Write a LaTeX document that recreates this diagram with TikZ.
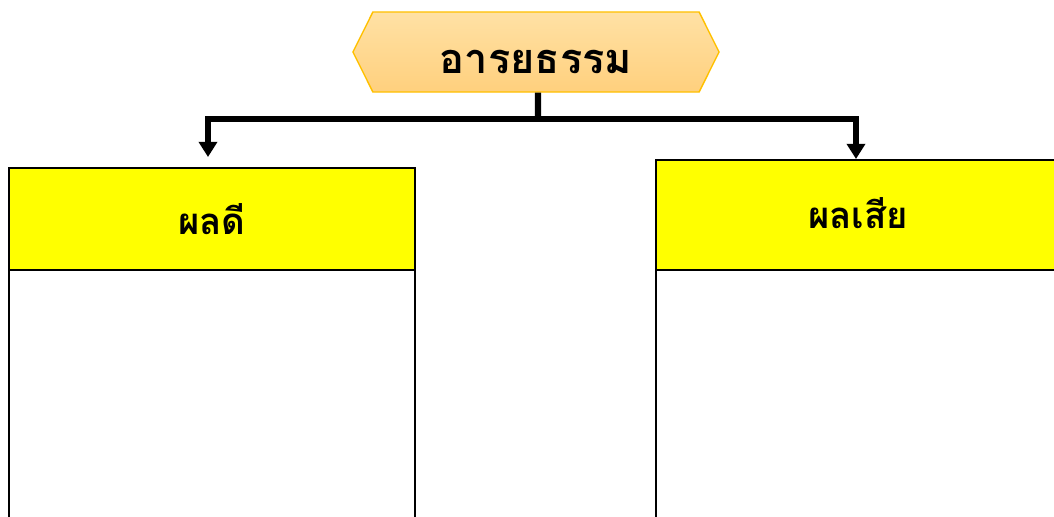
\documentclass[tikz,border=0pt]{standalone}
\usepackage{fontspec}
\newfontfamily\thaifont[Script=Thai]{Loma}
\usetikzlibrary{shapes.symbols,arrows.meta}
\definecolor{hexgold}{RGB}{255,192,0}
\definecolor{hextop}{RGB}{255,225,165}
\definecolor{hexbot}{RGB}{255,208,125}
\definecolor{headyellow}{RGB}{255,255,0}

\begin{document}
\begin{tikzpicture}[x=0.025cm, y=-0.025cm,
    every node/.style={font=\thaifont\bfseries},
    title/.style={signal, signal to=west and east, signal pointer angle=127,
        draw=hexgold, line width=1pt, top color=hextop, bottom color=hexbot,
        minimum width=9.15cm, minimum height=2cm, inner sep=0pt, font=\thaifont\bfseries\fontsize{29.5}{35}\selectfont},
    header/.style={rectangle, draw, line width=1.4pt, fill=headyellow, inner sep=0pt,
        font=\thaifont\bfseries\fontsize{26}{31}\selectfont},
    bodybox/.style={rectangle, draw, line width=1.4pt, fill=white, inner sep=0pt},
    conn/.style={line width=4.4pt, -{Triangle[width=0.45cm,length=0.38cm]}}]
    \useasboundingbox (0,0) rectangle (1054,516);
    \clip (0,0) rectangle (1054,516);
        \node[title] (top) at (536,52) {\raisebox{-7pt}[\height][\depth]{อารยธรรม}};
        \node[bodybox, minimum width=10.15cm, minimum height=6.5cm] (goodbody) at (212,400) {};
        \node[bodybox, minimum width=10.1cm, minimum height=6.5cm] (badbody) at (858,400) {};
        \node[header, minimum width=10.15cm, minimum height=2.55cm] (good) at (212,219) {ผลดี};
        \node[header, minimum width=10.1cm, minimum height=2.75cm] (bad) at (858,215) {\raisebox{3pt}{ผลเสีย}};
        \coordinate (split) at (538,119);
        \draw[line width=4.4pt] ([xshift=0.05cm]top.south) -- (split);
        \draw[conn] (split) -| ([xshift=-0.1cm,yshift=0.25cm]good.north);
        \draw[conn] (split) -| ([xshift=-0.05cm]bad.north);
    \end{tikzpicture}
\end{document}
